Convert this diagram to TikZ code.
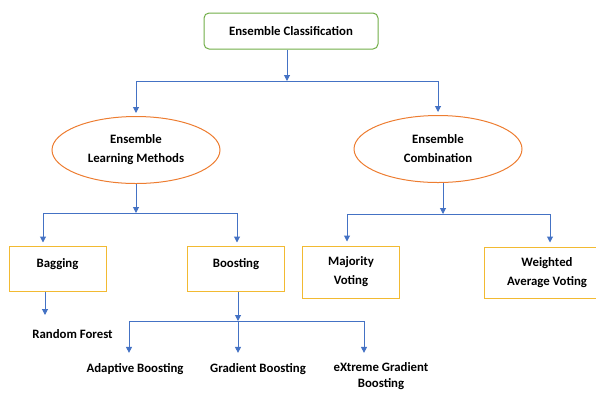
\documentclass[tikz,border=0pt]{standalone}
\usepackage{fontspec}
\setmainfont{Carlito}
\usepackage{tikz}
\usetikzlibrary{arrows.meta, positioning, shapes.geometric}

\definecolor{linkblue}{RGB}{68,114,196}
\definecolor{boxgreen}{RGB}{112,173,71}
\definecolor{ovalorange}{RGB}{237,125,49}
\definecolor{boxyellow}{RGB}{242,186,50}

\begin{document}
\begin{tikzpicture}[x=1pt, y=-1pt, >={Triangle[width=6pt,length=6pt]},
  every node/.style={font=\bfseries\fontsize{12.8}{19}\selectfont, align=center},
  topbox/.style={draw=boxgreen, line width=1pt, rounded corners=5pt, minimum width=174pt, minimum height=36pt},
  oval/.style={ellipse, draw=ovalorange, line width=1pt, minimum width=168pt, minimum height=67pt},
  leafbox/.style={draw=boxyellow, line width=1pt, minimum width=97pt, minimum height=45pt},
  link/.style={draw=linkblue, line width=1pt}]
  \useasboundingbox (0,0) rectangle (596,392);
  % boxes and ovals
  \node[topbox] (cls) at (291,31) {Ensemble Classification};
  \node[oval] (elm) at (136,150) {Ensemble\\Learning Methods};
  \node[oval] (ecb) at (438,149) {Ensemble\\Combination};
  \node[leafbox, text depth=11pt] (bag) at (57.5,268.5) {Bagging};
  \node[leafbox, text depth=11pt] (boost) at (236,268.5) {Boosting};
  \node[leafbox, minimum height=52pt] (maj) at (351,272) {Majority\\Voting};
  \node[leafbox, minimum width=126pt, minimum height=51pt] (wav) at (547,272.5) {Weighted\\Average Voting};
  % plain labels
  \node (rf) at (72.5,334) {Random Forest};
  \node (ada) at (135,369) {Adaptive Boosting};
  \node (grad) at (258,369) {Gradient Boosting};
  \node[font=\bfseries\fontsize{12.8}{16.5}\selectfont, inner sep=1pt] (xgb) at (381,376) {eXtreme Gradient\\Boosting};
  % top level
  \coordinate (topbus) at (287,81);
  \draw[link,->] (cls.south -| topbus) -- (topbus);
  \draw[link] (elm.north |- topbus) -- (ecb.north |- topbus);
  \draw[link,->,shorten >=3pt] (elm.north |- topbus) -- (elm.north);
  \draw[link,->,shorten >=3pt] (ecb.north |- topbus) -- (ecb.north);
  % learning methods
  \coordinate (lbus) at (136,213);
  \coordinate (lbusL) at (43,213);
  \coordinate (lbusR) at (237,213);
  \draw[link,->] (elm.south) -- (lbus);
  \draw[link] (lbusL) -- (lbusR);
  \draw[link,->,shorten >=3pt] (lbusL) -- (lbusL |- bag.north);
  \draw[link,->,shorten >=3pt] (lbusR) -- (lbusR |- boost.north);
  % combination
  \coordinate (rbus) at (443,214);
  \coordinate (rbusL) at (347,214);
  \coordinate (rbusR) at (550,214);
  \draw[link,->] (ecb.south -| rbus) -- (rbus);
  \draw[link] (rbusL) -- (rbusR);
  \draw[link,->,shorten >=4pt] (rbusL) -- (rbusL |- maj.north);
  \draw[link,->,shorten >=4pt] (rbusR) -- (rbusR |- wav.north);
  % bagging and boosting
  \coordinate (rftip) at (45,315);
  \draw[link,->] (bag.south -| rftip) -- (rftip);
  \coordinate (bbus) at (238,321);
  \coordinate (bbusL) at (129,321);
  \coordinate (bbusR) at (364,321);
  \draw[link,->] (boost.south -| bbus) -- (bbus);
  \draw[link] (bbusL) -- (bbusR);
  \draw[link,->,shorten >=7pt] (bbusL) -- (bbusL |- ada.north);
  \draw[link,->,shorten >=7pt] (bbus) -- (bbus |- grad.north);
  \draw[link,->,shorten >=7pt] (bbusR) -- (bbusR |- ada.north);
\end{tikzpicture}
\end{document}
